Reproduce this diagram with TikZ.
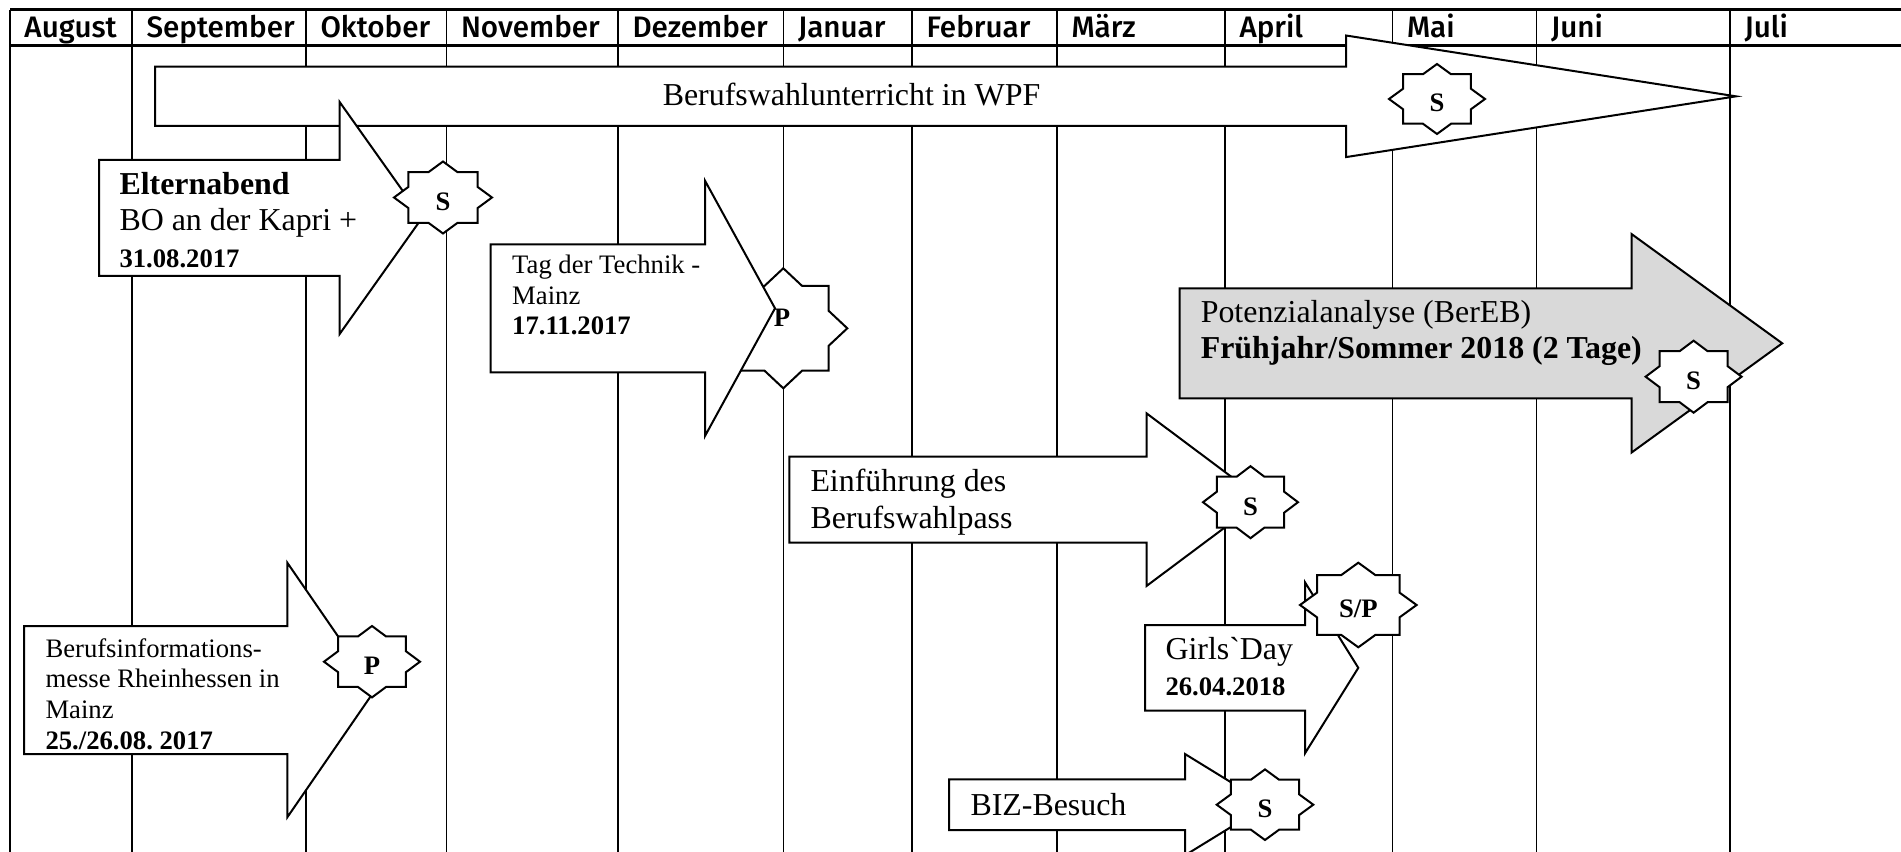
\documentclass[tikz,border=0pt]{standalone}
\usepackage{fontspec}
\setmainfont{Liberation Serif}
\newfontfamily\hdrfont{Fira Sans Medium}
\newfontfamily\rawserif{Liberation Serif}[Ligatures=TeXOff]
\usetikzlibrary{calc}
\frenchspacing
\newcommand\bigsize{\fontsize{12.76}{14.7}\selectfont}
\newcommand\smallsize{\fontsize{10.67}{12.3}\selectfont}
% block arrow: style, left, body top, body bottom, head x, head top, head bottom, tip x
\newcommand\blockarr[8]{%
  \pgfmathsetmacro\arrcy{(#3+#4)/2}%
  \draw[#1] (#2,#3) -- (#5,#3) -- (#5,#6) -- (#8,\arrcy) -- (#5,#7) -- (#5,#4) -- (#2,#4) -- cycle;}
% eight-pointed star: centre x, centre y, x radius, y radius
\newcommand\eightstar[4]{%
  \begin{scope}[shift={(#1,#2)},xscale=#3,yscale=#4]
    \draw[shapeline] (0:1) -- (22.5:.7654) -- (45:1) -- (67.5:.7654) -- (90:1) -- (112.5:.7654)
      -- (135:1) -- (157.5:.7654) -- (180:1) -- (202.5:.7654) -- (225:1) -- (247.5:.7654)
      -- (270:1) -- (292.5:.7654) -- (315:1) -- (337.5:.7654) -- cycle;
  \end{scope}}
\begin{document}
\begin{tikzpicture}[x=0.4pt,y=-0.4pt,
  gridline/.style={line width=0.75pt},
  headline/.style={line width=1.2pt},
  shapeline/.style={draw=black, line width=0.8pt, fill=white, line join=miter},
  greyshape/.style={shapeline, fill=black!15},
  bigtext/.style={font=\bigsize, align=left, anchor=west, inner sep=0pt},
  smalltext/.style={font=\smallsize, align=left, anchor=west, inner sep=0pt},
  startext/.style={font=\smallsize\bfseries, inner sep=0pt},
  monthtext/.style={font=\hdrfont\fontsize{11.85}{14}\selectfont, anchor=base west, inner sep=0pt}]

\useasboundingbox[fill=white] (0,0) rectangle (1901,852);

% grid
\foreach \x in {10,132,306,446.5,618,783.5,912,1057,1225,1392.5,1536.5,1730}
  \draw[gridline] (\x,10) -- (\x,852);
\draw[headline] (10,10) -- (1901,10);
\draw[headline] (10,46) -- (1901,46);

\foreach \x/\m [count=\i] in {10/August,132/September,306/Oktober,446.5/November,618/Dezember,783.5/Januar,912/Februar,1057/März,1225/April,1392.5/Mai,1536.5/Juni,1730/Juli}
  \node[monthtext] (month\i) at (\x+14,37.5) {\m};

% Berufswahlunterricht in WPF
\blockarr{shapeline}{155}{66.7}{126}{1346}{35.5}{157.1}{1736}
\node[bigtext, anchor=center] (tWPF) at (851.5,95) {Berufswahlunterricht in WPF};
\eightstar{1437}{99}{48}{35}
\node[startext] (sWPF) at (1437,103) {S};

% Elternabend
\blockarr{shapeline}{99}{160}{276}{339.5}{101.8}{334.2}{422}
\node[bigtext] (tEltern) at (119,220) {\textbf{Elternabend}\\BO an der Kapri +\\{\smallsize\bfseries 31.08.2017}};
\eightstar{443}{197.5}{49}{36}
\node[startext] (sEltern) at (443,201.5) {S};

% Tag der Technik
\eightstar{783.3}{328.3}{64}{60}
\blockarr{shapeline}{490.7}{244.3}{372.3}{705}{180.7}{436}{775}
\node[smalltext] (tTag) at (511.7,295) {Tag der Technik -\\Mainz\\\textbf{17.11.2017}};
\node[startext] (sTag) at (782,318) {P};

% Potenzialanalyse
\blockarr{greyshape}{1179.7}{288.3}{398.3}{1631.5}{234}{452.6}{1782.2}
\node[bigtext] (tPot) at (1200.3,333) {Potenzialanalyse (BerEB)\\\textbf{Frühjahr/Sommer 2018 (2 Tage)}};
\eightstar{1693.6}{376.7}{48}{36}
\node[startext] (sPot) at (1693.6,381) {S};

% Einfuehrung des Berufswahlpass
\blockarr{shapeline}{789.3}{456.7}{542.7}{1146.5}{413.3}{586}{1262}
\node[bigtext] (tEin) at (810,502) {Einführung des\\Berufswahlpass};
\eightstar{1250.5}{502.2}{47.5}{36}
\node[startext] (sEin) at (1250.5,506.5) {S};

% Girls`Day
\blockarr{shapeline}{1145}{625}{710.7}{1305}{582.3}{753.3}{1358.3}
\node[bigtext] (tGirls) at (1165,666.5) {Girls{\rawserif\symbol{96}}Day\\{\smallsize\bfseries 26.04.2018}};
\eightstar{1358.3}{605}{58.3}{42.3}
\node[startext] (sGirls) at (1358.3,609) {S/P};

% BIZ-Besuch
\blockarr{shapeline}{949}{779.3}{830}{1185}{754}{855.3}{1267.4}
\node[bigtext] (tBIZ) at (970,804.5) {BIZ-Besuch};
\eightstar{1265}{804.7}{48.3}{35.3}
\node[startext] (sBIZ) at (1265,808.5) {S};

% Berufsinformationsmesse
\blockarr{shapeline}{24}{626}{754}{287.3}{562.7}{817.3}{375}
\node[smalltext] (tBim) at (45,694) {Berufsinformations-\\messe Rheinhessen in\\Mainz\\\textbf{25./26.08. 2017}};
\eightstar{372}{661.7}{48}{35.7}
\node[startext] (sBim) at (372,665.5) {P};

\end{tikzpicture}
\end{document}
